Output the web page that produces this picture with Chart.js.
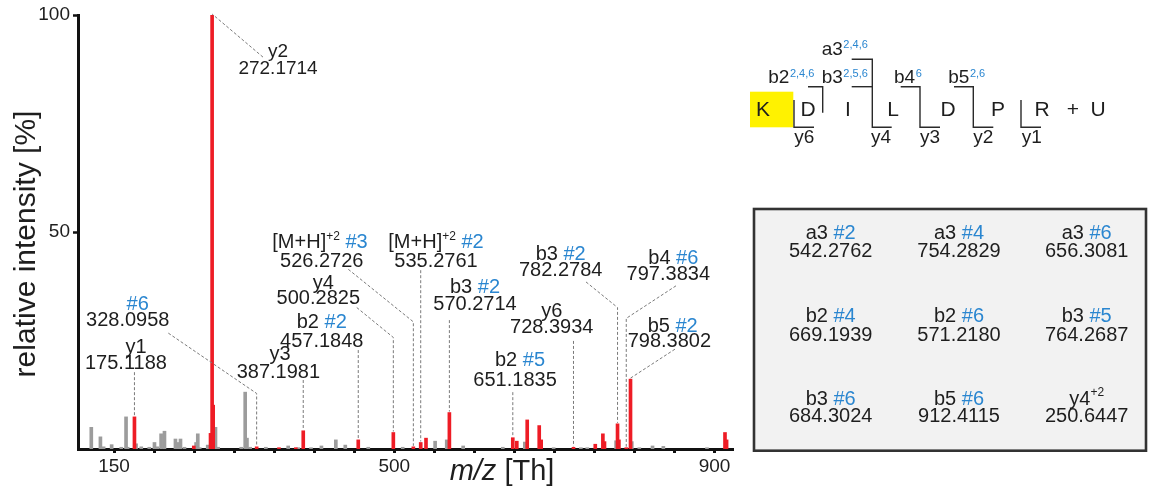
<!DOCTYPE html>
<html><head><meta charset="utf-8">
<script src="https://cdn.jsdelivr.net/npm/chart.js@4/dist/chart.umd.min.js"></script>
<style>html,body{margin:0;padding:0;background:#fff;overflow:hidden}canvas{display:block}</style>
</head><body>
<canvas id="c" width="1150" height="486"></canvas>
<script>
// ---------- data ----------
const grayMz  = [121.6,133.0,137.0,147.0,159.0,165.0,167.0,177.5,184.0,194.0,200.5,204.0,208.8,213.0,226.7,229.6,233.0,238.0,252.5,254.6,257.0,267.0,276.7,280.0,308.8,313.8,316.0,320.0,339.6,367.5,380.0,396.0,409.0,427.0,438.8,467.5,510.5,551.0,565.5,586.0,635.5,663.0,699.0,733.0,741.0,777.0,796.6,806.0,822.5,836.0,890.5];
const grayInt = [5.0,2.8,0.5,1.0,0.4,7.4,0.4,1.2,0.5,0.4,1.5,0.5,3.5,4.1,2.3,1.5,2.3,0.4,1.5,3.5,0.3,0.9,5.0,0.4,0.4,13.1,2.5,0.4,0.4,0.7,0.3,0.3,0.7,2.1,0.9,0.4,0.4,1.8,2.1,0.7,0.4,1.6,0.3,0.3,0.3,1.9,1.7,0.3,0.7,0.6,0.3];
const redMz  = [175.5,249.6,270.5,272.5,273.8,328.1,356.0,377.0,386.3,455.0,498.8,523.8,533.0,539.6,568.8,648.0,653.0,666.0,681.0,683.4,723.8,751.0,760.5,762.5,778.8,780.5,789.7,795.0,913.0,915.0];
const redInt = [7.4,0.7,3.6,100,10.1,0.5,0.3,0.3,4.2,2.1,3.8,0.5,1.5,2.5,8.4,2.6,1.8,6.7,5.4,2.1,0.4,1.1,3.5,1.7,5.8,2.1,0.3,16.1,3.8,2.1];
const xTicks  = [150,200,250,300,350,400,450,500,550,600,650,700,750,800,850,900];
const xLabels = [150,500,900];
const yTicks  = [50,100];

// annotation texts (title parts: [text, kind]  kind: ''=black, 'b'=blue, 's'=superscript)
const annPeaks  = [272.5,328.1,175.5,386.3,455.0,498.8,523.8,533.0,568.8,648.0,723.8,778.8,789.7,795.0];
const annTitles = [
  [['y2','']], [['#6','b']], [['y1','']], [['y3','']], [['b2 ',''],['#2','b']], [['y4','']],
  [['[M+H]',''],['+2','s'],[' #3','b']], [['[M+H]',''],['+2','s'],[' #2','b']],
  [['b3 ',''],['#2','b']], [['b2 ',''],['#5','b']], [['y6','']], [['b3 ',''],['#2','b']],
  [['b4 ',''],['#6','b']], [['b5 ',''],['#2','b']]
];
const annValues = ['272.1714','328.0958','175.1188','387.1981','457.1848','500.2825','526.2726','535.2761','570.2714','651.1835','728.3934','782.2784','797.3834','798.3802'];
// label layout in data space: [title m/z, title %, value m/z, value %], leader elbows [m/z|null(=peak), %]
const annLayout = [
  [354.8,91.5,354.8,87.6],[179.6,33.3,167.1,29.5],[177.4,23.4,164.9,19.7],[357.3,21.7,355.2,17.6],
  [409.4,29.1,409.4,24.7],[411.4,38.2,405.1,34.6],[407.2,47.5,409.4,43.2],[552.1,47.5,552.1,43.2],
  [600.8,37.2,600.8,33.4],[657.0,20.3,650.8,15.9],[696.6,31.8,696.6,27.9],[707.8,44.9,707.8,41.1],
  [848.5,43.8,842.2,40.1],[847.7,28.3,843.5,24.7]
];
const annLeaders = [
  [[336.0,90.3]], [[217.8,26.7],[null,12.8]], [[null,17.7]], [[null,15.9]],
  [[null,22.8]], [[453.1,32.6],[null,25.7]], [[442.6,41.4],[null,29.3]], [[null,41.2]],
  [[null,29.7]], [[null,13.1]], [[null,24.9]], [[739.4,38.5],[null,32.6]],
  [[851.8,37.6],[null,30.1]], [[850.5,23.0]]
];

// table
const tblIons = [[['a3 ',''],['#2','b']],[['a3 ',''],['#4','b']],[['a3 ',''],['#6','b']],
                 [['b2 ',''],['#4','b']],[['b2 ',''],['#6','b']],[['b3 ',''],['#5','b']],
                 [['b3 ',''],['#6','b']],[['b5 ',''],['#6','b']],[['y4',''],['+2','s']]];
const tblVals = ['542.2762','754.2829','656.3081','669.1939','571.2180','764.2687','684.3024','912.4115','250.6447'];
const seqLetters = ['K','D','I','L','D','P','R','+','U'];

const FAM = '"Liberation Sans", Arial, sans-serif';
const BLUE = '#2a86d0';
const INK = '#1e1e1e';

function drawParts(ctx, parts, cx, cy, size){
  const ws = parts.map(p=>{ctx.font=(p[1]==='s'?Math.round(size*0.6):size)+'px '+FAM; return ctx.measureText(p[0]).width;});
  let x = cx - ws.reduce((a,b)=>a+b,0)/2;
  ctx.textAlign='left'; ctx.textBaseline='middle';
  parts.forEach((p,i)=>{
    ctx.font=(p[1]==='s'?Math.round(size*0.6):size)+'px '+FAM;
    ctx.fillStyle = p[1]==='b'?BLUE:INK;
    ctx.fillText(p[0], x, p[1]==='s'? cy-size*0.33 : cy);
    x += ws[i];
  });
}

const annPlugin = {
  id:'ann',
  afterDraw(chart){
    const ctx = chart.ctx, xs = chart.scales.x, ys = chart.scales.y;
    ctx.save();
    // leaders
    ctx.setLineDash([3,2]); ctx.strokeStyle='#7a7a7a'; ctx.lineWidth=1;
    annPeaks.forEach((pm,i)=>{
      const k = redMz.indexOf(pm);
      const px = xs.getPixelForValue(pm), py = ys.getPixelForValue(redInt[k]);
      ctx.beginPath();
      annLeaders[i].forEach((pt,j)=>{
        const X = pt[0]===null ? px : xs.getPixelForValue(pt[0]);
        const Y = ys.getPixelForValue(pt[1]);
        if(j===0) ctx.moveTo(X,Y); else ctx.lineTo(X,Y);
      });
      ctx.lineTo(px, py-1);
      ctx.stroke();
    });
    ctx.setLineDash([]);
    // labels
    annPeaks.forEach((pm,i)=>{
      const L = annLayout[i];
      const sz = i===0?19:20;
      drawParts(ctx, annTitles[i], xs.getPixelForValue(L[0]), ys.getPixelForValue(L[1]), sz);
      drawParts(ctx, [[annValues[i],'']], xs.getPixelForValue(L[2]), ys.getPixelForValue(L[3]), sz);
    });
    // axis titles
    ctx.fillStyle=INK; ctx.textBaseline='alphabetic'; ctx.textAlign='left';
    ctx.font='italic 29px '+FAM; const w1=ctx.measureText('m/z').width;
    ctx.font='29px '+FAM; const w2=ctx.measureText(' [Th]').width;
    let x0 = 502 - (w1+w2)/2;
    ctx.font='italic 29px '+FAM; ctx.fillText('m/z', x0, 480);
    ctx.font='29px '+FAM; ctx.fillText(' [Th]', x0+w1, 480);
    ctx.save(); ctx.translate(27, 244); ctx.rotate(-Math.PI/2);
    ctx.textAlign='center'; ctx.textBaseline='middle'; ctx.font='30px '+FAM;
    ctx.fillText('relative intensity [%]', 0, 0); ctx.restore();

    // ---- sequence diagram ----
    ctx.fillStyle='#fff200'; ctx.fillRect(750, 91.7, 43.3, 35.6);
    const letX = [763,808,848,893,948,998,1042,1073,1098];
    ctx.fillStyle=INK; ctx.font='21px '+FAM; ctx.textAlign='center'; ctx.textBaseline='alphabetic';
    seqLetters.forEach((l,i)=>ctx.fillText(l, letX[i], 116));
    ctx.strokeStyle='#2a2a2a'; ctx.lineWidth=1.4;
    const segs = [
      [[794,100],[794,127.3],[814,127.3]],
      [[808,86.7],[822.7,86.7],[822.7,112.7]],
      [[851.7,59.3],[872.3,59.3],[872.3,127.3],[891.7,127.3]],
      [[851.7,86.7],[872.3,86.7]],
      [[900.7,86.7],[920,86.7],[920,127.3],[940,127.3]],
      [[954,86.7],[973.3,86.7],[973.3,127.3],[993.3,127.3]],
      [[1021,100],[1021,127.3],[1041,127.3]]
    ];
    segs.forEach(s=>{ctx.beginPath(); s.forEach((p,j)=>j?ctx.lineTo(p[0],p[1]):ctx.moveTo(p[0],p[1])); ctx.stroke();});
    const bl = [['b2','2,4,6',768.3,83.3],['b3','2,5,6',821.7,83.3],['a3','2,4,6',821.7,55],['b4','6',894,83.3],['b5','2,6',948.3,83.3]];
    ctx.textAlign='left';
    bl.forEach(b=>{
      ctx.font='19px '+FAM; ctx.fillStyle=INK; ctx.fillText(b[0], b[2], b[3]);
      const w=ctx.measureText(b[0]).width;
      ctx.font='11px '+FAM; ctx.fillStyle=BLUE; ctx.fillText(b[1], b[2]+w+0.5, b[3]-6.6);
    });
    const yl = [['y6',794.3],['y4',871],['y3',920],['y2',973.3],['y1',1021.7]];
    ctx.font='19px '+FAM; ctx.fillStyle=INK;
    yl.forEach(y=>ctx.fillText(y[0], y[1], 143.3));

    // ---- table ----
    ctx.fillStyle='#f2f2f2'; ctx.fillRect(754,209,392,241.7);
    ctx.strokeStyle='#333'; ctx.lineWidth=2.6; ctx.strokeRect(754,209,392,241.7);
    const cols=[830.7,959,1086.7], rowsT=[233.3,316.7,399.3], rowsV=[251.7,335,416.7];
    tblIons.forEach((t,i)=>{
      const c=i%3, r=Math.floor(i/3);
      drawParts(ctx, t, cols[c], rowsT[r], 20);
      drawParts(ctx, [[tblVals[i],'']], cols[c], rowsV[r], 20);
    });
    ctx.restore();
  }
};

Chart.defaults.font.family = FAM;
new Chart(document.getElementById('c'), {
  type:'bar',
  data:{datasets:[
    {label:'annotated', data:redMz.map((m,i)=>({x:m,y:redInt[i]})), backgroundColor:'#ee1c25', barThickness:3, grouped:false, order:0},
    {label:'other', data:grayMz.map((m,i)=>({x:m,y:grayInt[i]})), backgroundColor:'#9c9c9c', barThickness:3, grouped:false, order:1}
  ]},
  options:{
    responsive:false, animation:false, devicePixelRatio:1,
    layout:{padding:{top:15,right:417,left:0,bottom:0}},
    plugins:{legend:{display:false}, tooltip:{enabled:false}},
    scales:{
      x:{type:'linear', min:105, max:923, offset:false,
         afterBuildTicks:s=>{s.ticks=xTicks.map(v=>({value:v}));},
         afterFit:s=>{s.height=37;},
         ticks:{callback:v=>xLabels.includes(v)?String(v):'', autoSkip:false, maxRotation:0, font:{size:19}, color:INK, padding:2},
         grid:{offset:false, drawOnChartArea:false, drawTicks:true, tickLength:4, tickWidth:3, tickColor:'#111'},
         border:{display:true, color:'#111', width:3}},
      y:{min:0, max:100,
         afterBuildTicks:s=>{s.ticks=yTicks.map(v=>({value:v}));},
         afterFit:s=>{s.width=78;},
         ticks:{font:{size:19}, color:INK, padding:3},
         grid:{drawOnChartArea:false, drawTicks:true, tickLength:5, tickWidth:2.5, tickColor:'#111'},
         border:{display:true, color:'#111', width:3}}
    }
  },
  plugins:[annPlugin]
});
</script>
</body></html>
